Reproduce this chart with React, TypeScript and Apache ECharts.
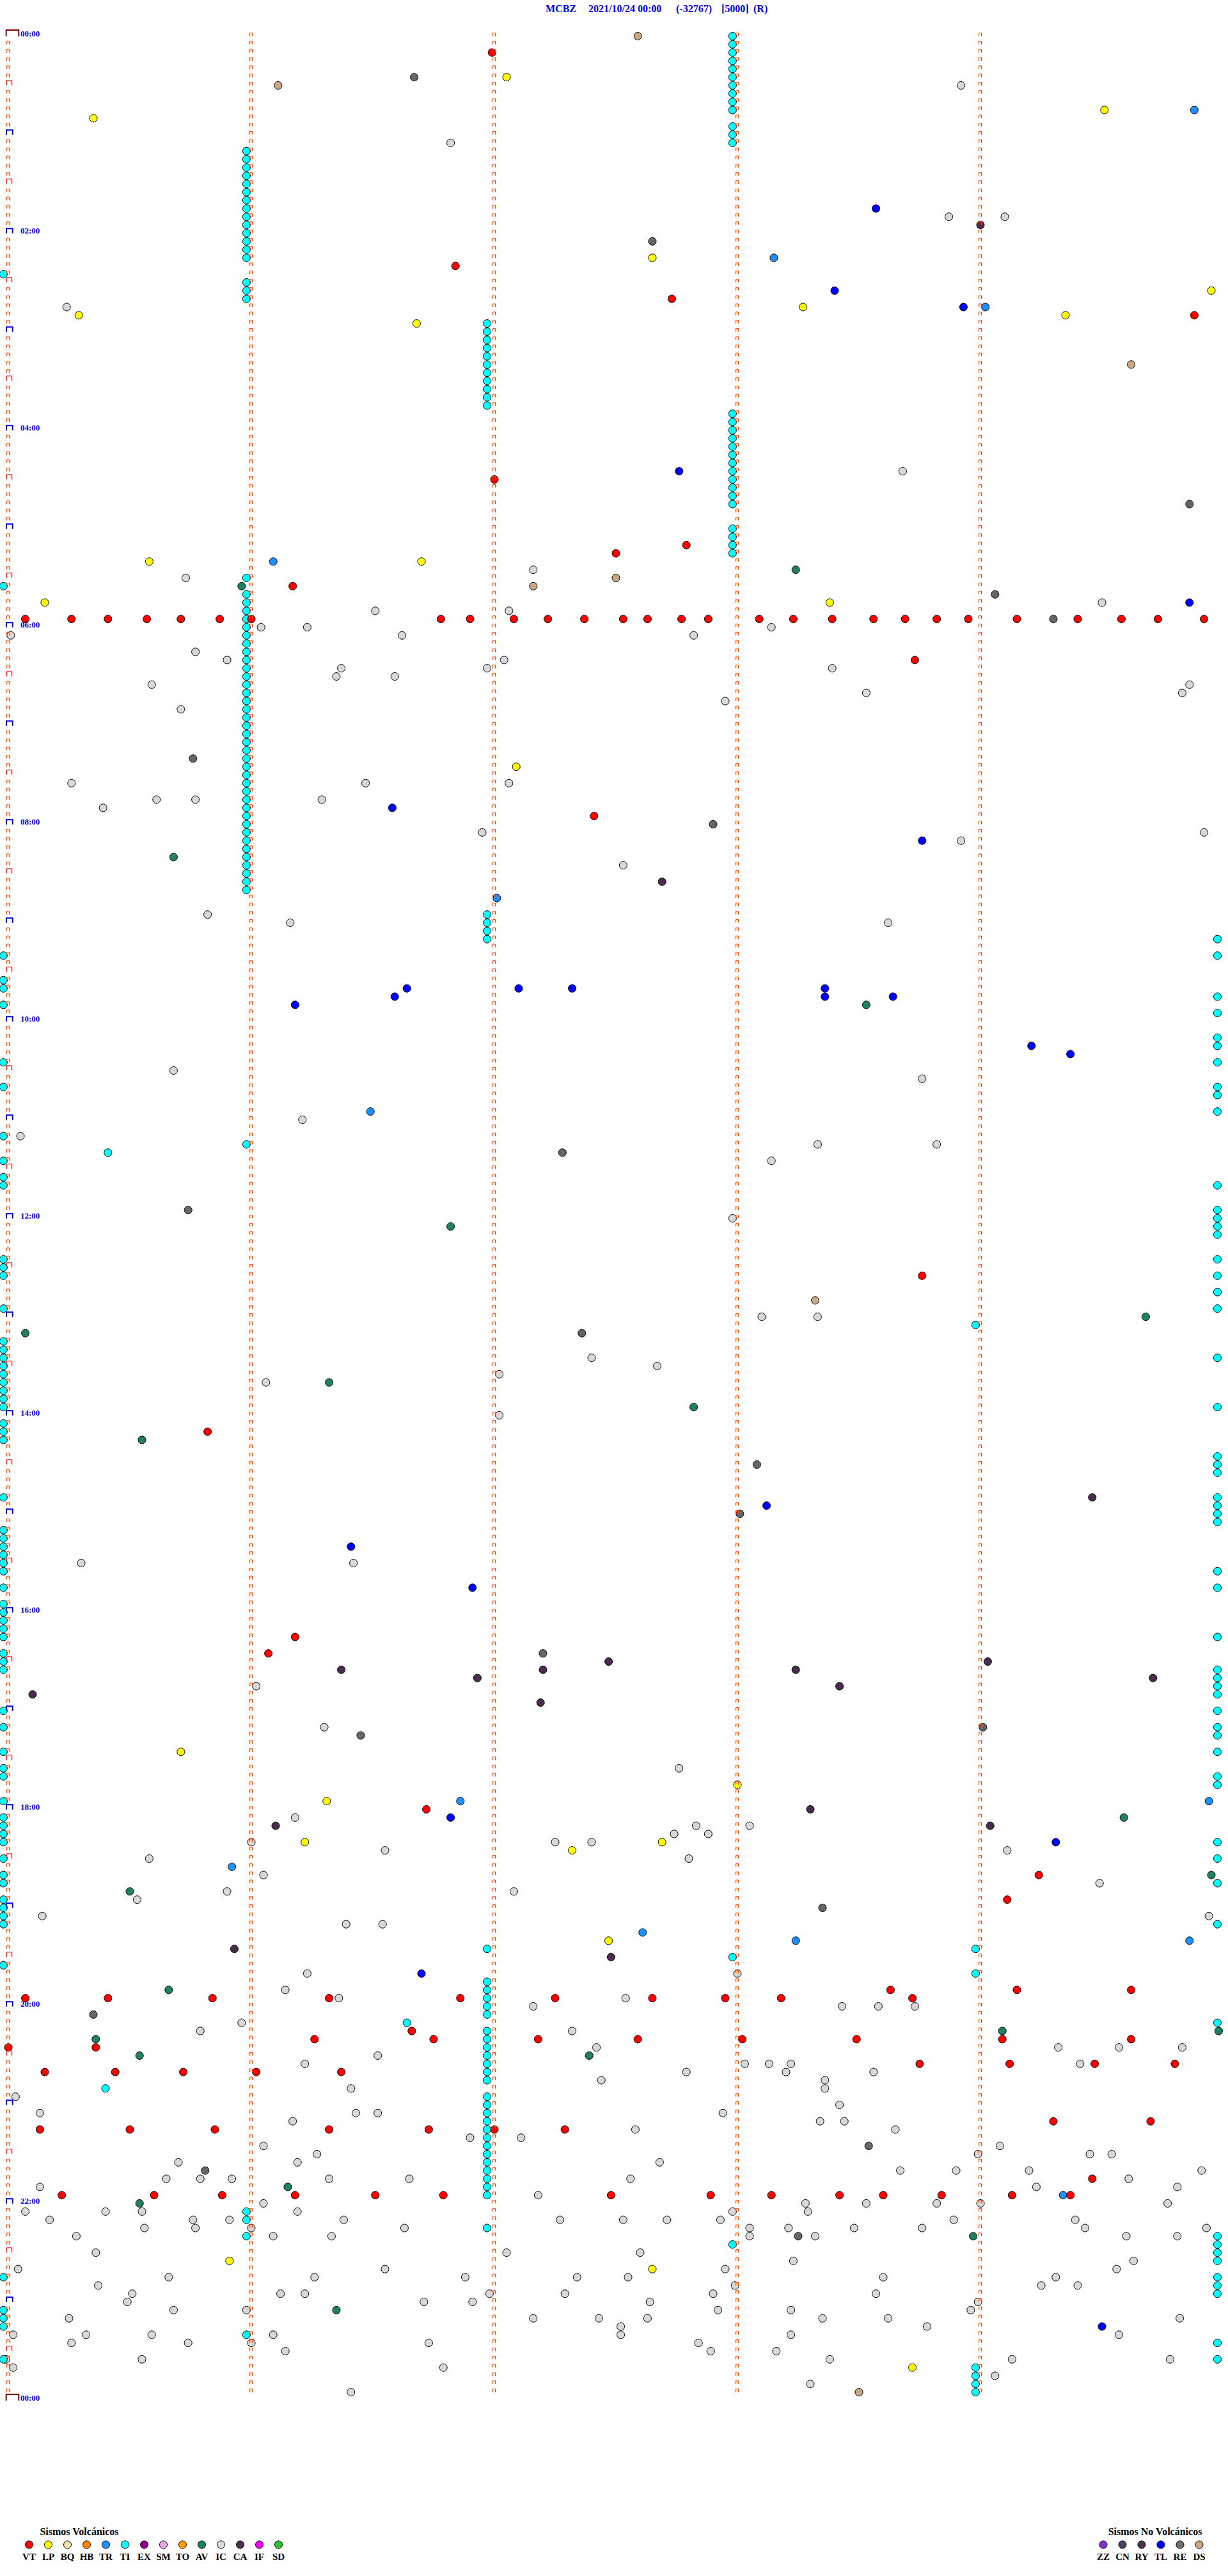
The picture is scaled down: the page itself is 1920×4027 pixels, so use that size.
import React, { useEffect, useRef } from "react";
import * as echarts from "echarts";

type Ev = [number, number]; // [trace row (5-minute line), minute within the line]

const TRACE_COUNT = 288;
const TRACE_MINUTES = 5;
const TITLE_PARTS = ["MCBZ", "2021/10/24 00:00", "(-32767)", "[5000]", "(R)"];
const TITLE_X = [853, 920, 1057, 1128, 1178];

const VT: Ev[] = [
  [2,1.99],[28,1.84],[32,2.73],[34,4.88],[54,2.0],[62,2.79],[63,2.5],[67,1.17],
  [71,0.07],[71,0.26],[71,0.41],[71,0.57],[71,0.71],[71,0.87],[71,1.0],[71,1.78],[71,1.9],[71,2.08],[71,2.22],[71,2.37],[71,2.53],[71,2.63],[71,2.77],[71,2.88],[71,3.09],[71,3.23],[71,3.39],[71,3.56],[71,3.69],[71,3.82],[71,3.95],[71,4.15],[71,4.4],[71,4.58],[71,4.73],[71,4.92],
  [76,3.73],[95,2.41],[151,3.76],[170,0.82],
  [195,1.18],[197,1.07],[216,1.72],[224,4.24],[227,4.11],
  [238,3.63],[238,4.15],[238,4.62],
  [239,0.07],[239,0.41],[239,0.84],[239,1.32],[239,1.86],[239,2.25],[239,2.65],[239,2.95],[239,3.18],[239,3.72],
  [243,1.66],
  [244,1.26],[244,1.75],[244,2.18],[244,2.59],[244,3.02],[244,3.49],[244,4.09],[244,4.62],
  [245,0.0],[245,0.36],
  [247,3.75],[247,4.12],[247,4.47],[247,4.8],
  [248,0.15],[248,0.44],[248,0.72],[248,1.02],[248,1.37],
  [254,4.3],[254,4.7],
  [255,0.13],[255,0.5],[255,0.85],[255,1.32],[255,1.73],[255,2.0],[255,2.29],
  [261,4.46],
  [263,0.22],[263,0.6],[263,0.88],[263,1.18],[263,1.51],[263,1.79],[263,2.48],[263,2.89],[263,3.14],[263,3.42],[263,3.6],[263,3.84],[263,4.13],[263,4.37]
];

const LP: Ev[] = [
  [5,2.05],[9,4.51],[10,0.35],[27,2.65],[31,4.95],[33,3.27],[34,4.35],[34,0.29],[35,1.68],[64,0.58],[64,1.7],[69,3.38],[69,0.15],[89,2.09],
  [209,0.71],[213,3.0],[215,1.31],[220,1.22],[220,2.69],[221,2.32],[232,2.47],[271,0.91],[272,2.65],[284,3.72]
];

const TR: Ev[] = [
  [9,4.88],[27,3.15],[33,4.02],[64,1.09],[105,2.01],[131,1.49],
  [215,1.86],[215,4.94],[223,0.92],[231,2.61],[232,3.24],[232,4.86],[263,4.34]
];

const TL: Ev[] = [
  [21,3.57],[31,3.4],[33,3.93],[53,2.76],[69,4.86],[94,1.58],[98,3.76],[116,1.64],[116,2.1],[116,2.32],[116,3.36],[117,1.59],[117,3.36],[117,3.64],[118,1.18],[123,4.21],[124,4.37],[179,3.12],[184,1.41],
  [189,1.91],[217,1.82],[220,4.31],[236,1.7],[279,4.5]
];

const RE: Ev[] = [
  [5,1.67],[25,2.65],[57,4.86],[68,4.06],[71,4.3],[88,0.76],[96,2.9],[136,2.28],[143,0.74],[158,2.36],[174,3.08],[180,3.01],
  [197,2.2],[206,4.01],[207,1.45],[228,3.35],[241,0.35],[257,3.54],[260,0.81],[268,3.25]
];

const CA: Ev[] = [
  [23,4.0],[103,2.69],[178,4.46],
  [198,2.47],[198,4.03],[199,1.37],[199,2.2],[199,3.24],[200,1.93],[200,4.71],[201,3.42],[202,0.1],[203,2.19],[216,3.3],[218,1.1],[218,4.04],[233,0.93],[234,2.48]
];

const DS: Ev[] = [[0,2.59],[6,1.11],[40,4.62],[66,2.5],[67,2.16],[154,3.32],[287,3.5]];

const AV: Ev[] = [
  [65,3.24],[67,0.96],[100,0.68],[118,3.53],[145,1.82],[156,4.68],[158,0.07],[164,1.32],[167,2.82],[171,0.55],
  [217,4.59],[224,4.95],[226,0.5],[238,0.66],[243,4.09],[243,4.98],[244,0.36],[246,0.54],[246,2.39],[262,1.15],[264,0.54],[268,3.97],[277,1.35]
];

const IC: Ev[] = [
  [6,3.92],[13,1.82],[22,3.87],[22,4.1],[33,0.24],[53,3.68],[65,2.16],[66,0.73],[69,4.5],[70,1.51],[70,2.06],[72,1.04],[72,1.23],[72,3.14],[73,0.01],[73,1.62],[73,2.82],[75,0.77],[76,0.9],[76,2.04],[77,1.37],[77,1.97],[77,3.39],[78,1.35],[78,1.59],[79,0.59],[79,4.86],[80,3.53],[80,4.83],[81,2.95],[82,0.71],[91,0.26],[91,1.47],[91,2.06],[93,0.61],[93,0.77],[93,1.29],[94,0.39],[97,1.95],[97,4.92],[98,3.92],[101,2.53],[107,0.82],[108,1.16],[108,3.62],[126,0.68],[127,3.76],[132,1.21],[134,0.05],[135,3.33],[135,3.82],[137,3.14],[144,2.98],[156,3.1],[156,3.33],[161,2.4],[162,2.67],[163,2.02],[164,1.06],[168,2.02],[186,0.3],[186,1.42],
  [201,1.02],[206,1.3],[217,1.18],[220,1.0],[220,2.25],[220,2.4],[221,1.55],[222,0.58],[224,1.05],[226,0.9],[226,2.08],[227,0.53],[229,0.14],[230,1.39],[230,1.54],
  [211,2.76],[218,2.83],[218,3.05],[219,2.74],[219,2.88],[221,4.11],[222,2.8],[225,4.49],[229,4.94],
  [236,1.23],[238,1.14],[239,1.36],[240,2.16],[242,0.96],[243,0.79],[243,2.32],[245,2.42],[246,1.52],[247,1.22],[249,2.44],[250,1.41],[251,0.03],[253,0.13],[253,1.43],[253,1.52],[254,1.17],[256,1.9],[256,2.11],[257,1.05],[258,1.27],[259,0.7],[259,1.19],[261,0.65],[261,0.79],[261,0.92],[261,1.32],[261,1.65],[262,0.13],[263,2.18],[264,1.05],[265,0.07],[265,0.4],[265,0.55],[265,1.19],[266,0.17],[266,0.76],[266,0.91],[266,1.38],[266,2.27],[267,0.56],[267,0.77],[267,1.0],[267,1.63],[268,0.28],[268,1.09],[268,1.33],[270,0.36],[270,2.05],[272,0.04],[272,1.55],[273,0.66],[273,1.26],[273,1.88],[273,2.34],[274,0.37],[275,0.51],[275,1.12],[275,1.22],[275,1.98],[275,2.29],[276,0.49],[276,1.71],[276,1.91],[277,0.68],[277,0.98],[278,0.25],[278,2.16],[278,2.43],[280,0.02],[280,0.32],[280,0.59],[280,1.09],[281,0.26],[281,0.74],[281,1.0],[281,1.73],[282,1.14],[283,-0.01],[283,0.55],[284,0.02],[284,1.79],[287,1.41],
  [236,3.0],[239,2.54],[240,3.43],[240,3.58],[240,3.73],[245,4.32],[245,4.57],[245,4.83],[247,3.03],[247,3.13],[247,3.22],[247,4.41],[248,2.79],[248,3.2],[248,3.56],[249,3.36],[250,3.36],[252,3.42],[253,2.94],[254,3.34],[254,3.44],[255,2.58],[255,3.65],[257,4.08],[258,3.99],[258,4.45],[258,4.54],[259,2.68],[260,3.67],[260,3.9],[260,4.2],[260,4.91],[261,2.56],[261,4.61],[262,4.23],[262,4.81],[264,3.28],[264,3.53],[264,3.82],[264,4.0],[264,4.77],[265,2.98],[265,3.29],[266,2.53],[266,2.71],[266,2.93],[266,3.89],[266,4.39],[267,3.05],[267,3.21],[267,3.48],[267,3.76],[267,4.43],[267,4.93],[268,3.05],[268,3.32],[268,4.6],[268,4.81],[270,2.6],[271,3.23],[271,4.63],[272,2.95],[272,4.56],[273,2.55],[273,3.6],[273,4.31],[274,2.99],[274,4.25],[274,4.4],[275,2.9],[275,3.57],[276,2.64],[276,3.99],[277,2.92],[277,3.22],[277,3.96],[278,2.63],[278,3.35],[278,3.62],[278,4.82],[279,2.52],[279,3.78],[280,2.52],[280,3.22],[280,4.57],[281,2.84],[282,2.89],[282,3.16],[283,3.38],[283,4.13],[283,4.78],[285,4.06],[286,3.3]
];

// TI events grouped by their position in the line: [minute, rows]
const TI_GROUPS: [number, number[]][] = [
  [2.98, [0,1,2,3,4,5,6,7,8,9,11,12,13,46,47,48,49,50,51,52,53,54,55,56,57,60,61,62,63,234,269]],
  [0.98, [14,15,16,17,18,19,20,21,22,23,24,25,26,27,30,31,32,66,68,69,70,71,72,73,74,75,76,77,78,79,80,81,82,83,84,85,86,87,88,89,90,91,92,93,94,95,96,97,98,99,100,101,102,103,104,135,265,266,268,280]],
  [1.97, [35,36,37,38,39,40,41,42,43,44,45,107,108,109,110,233,237,238,239,240,241,243,244,245,246,247,248,249,251,252,253,254,255,256,257,258,259,260,261,262,263,267]],
  [-0.02, [29,67,112,115,116,118,125,128,134,137,139,140,149,150,151,155,159,160,161,162,163,164,165,166,167,169,170,171,178,182,183,184,185,186,187,189,191,192,193,194,195,197,198,199,204,206,209,211,212,215,217,218,219,220,222,224,225,227,228,229,230,235,273,277,278,279,283]],
  [4.975, [110,112,117,119,122,123,125,128,129,131,140,143,144,145,146,149,151,153,155,161,167,173,174,175,178,179,180,181,187,189,195,199,200,201,202,204,206,207,209,212,213,220,222,225,230,242,268,269,270,271,273,274,275,281,283]],
  [3.98, [157,233,236,284,285,286,287]],
  [0.41, [136]],
  [1.64, [242]],
  [0.4, [250]]
];

const VOLC_CODES = ["VT","LP","BQ","HB","TR","TI","EX","SM","TO","AV","IC","CA","IF","SD"];
const VOLC_COLORS = ["#ff0000","#ffff00","#f0e6a8","#ff8000","#2090ff","#00ffff","#900090","#e8a8e8","#ffa000","#208060","#d8d8d8","#503050","#ff00ff","#30c030"];
const NONVOLC_CODES = ["ZZ","CN","RY","TL","RE","DS"];
const NONVOLC_COLORS = ["#8030d0","#504060","#503050","#0000ff","#707070","#c8a880"];

const SERIF = '"Liberation Serif", "Times New Roman", serif';
const CIRCLE_DY = 0.35;

export default function App() {
  const ref = useRef<HTMLDivElement>(null);

  useEffect(() => {
    if (!ref.current) return;
    const chart = echarts.init(ref.current, undefined, { renderer: "svg" });

    const tiData: Ev[] = [];
    TI_GROUPS.forEach(([m, rows]) => rows.forEach((r) => tiData.push([r, m])));

    const eventSets: { code: string; data: Ev[]; color: string }[] = [
      { code: "IC", data: IC, color: "#d8d8d8" },
      { code: "DS", data: DS, color: "#c8a880" },
      { code: "RE", data: RE, color: "#666666" },
      { code: "CA", data: CA, color: "#4a2c4c" },
      { code: "AV", data: AV, color: "#208060" },
      { code: "TL", data: TL, color: "#0000ff" },
      { code: "TR", data: TR, color: "#2090ff" },
      { code: "LP", data: LP, color: "#ffff00" },
      { code: "TI", data: tiData, color: "#00ffff" },
      { code: "VT", data: VT, color: "#ff0000" }
    ];

    const markerData: number[][] = [];
    for (let r = 0; r < TRACE_COUNT; r++) {
      for (let c = 0; c < TRACE_MINUTES; c++) {
        if (c === 0 && r % 6 === 0) continue;
        markerData.push([c, r]);
      }
    }
    const bracketData: number[][] = [];
    for (let r = 0; r <= TRACE_COUNT; r += 6) {
      bracketData.push([0, r, r % TRACE_COUNT === 0 ? 0 : r % 12 === 0 ? 1 : 2]);
    }

    const graphic: any[] = [];
    TITLE_PARTS.forEach((t, i) => {
      graphic.push({
        type: "text", x: TITLE_X[i], y: 13, silent: true,
        style: { text: t, fill: "#0000ff", font: `bold 16px ${SERIF}`, align: "left", verticalAlign: "middle" }
      });
    });
    graphic.push({
      type: "text", x: 124, y: 3957,
      style: { text: "Sismos Volcánicos", fill: "#000", font: `bold 16px ${SERIF}`, align: "center", verticalAlign: "middle" }
    });
    VOLC_CODES.forEach((c, i) => {
      const cx = 45.5 + i * 30;
      graphic.push({ type: "circle", shape: { cx, cy: 3978, r: 6 }, style: { fill: VOLC_COLORS[i], stroke: "#000", lineWidth: 1 } });
      graphic.push({
        type: "text", x: cx, y: 3997,
        style: { text: c, fill: "#000", font: `bold 15px ${SERIF}`, align: "center", verticalAlign: "middle" }
      });
    });
    graphic.push({
      type: "text", x: 1806, y: 3957,
      style: { text: "Sismos No Volcánicos", fill: "#000", font: `bold 16px ${SERIF}`, align: "center", verticalAlign: "middle" }
    });
    NONVOLC_CODES.forEach((c, i) => {
      const cx = 1725 + i * 30;
      graphic.push({ type: "circle", shape: { cx, cy: 3978, r: 6 }, style: { fill: NONVOLC_COLORS[i], stroke: "#000", lineWidth: 1 } });
      graphic.push({
        type: "text", x: cx, y: 3997,
        style: { text: c, fill: "#000", font: `bold 15px ${SERIF}`, align: "center", verticalAlign: "middle" }
      });
    });

    const option: any = {
      animation: false,
      backgroundColor: "#ffffff",
      grid: { left: 13, right: 7, top: 52, bottom: 279 },
      xAxis: { type: "value", min: 0, max: TRACE_MINUTES, show: false },
      yAxis: {
        type: "value", min: 0, max: TRACE_COUNT, interval: 24, inverse: true,
        axisLine: { show: false }, axisTick: { show: false }, splitLine: { show: false },
        axisLabel: {
          inside: true, margin: 19, color: "#0000ff", fontFamily: SERIF, fontWeight: "bold", fontSize: 13,
          formatter: (v: number) => {
            const h = (v / 12) % 24;
            return (h < 10 ? "0" : "") + h + ":00";
          }
        }
      },
      graphic,
      series: [
        ...eventSets.map((s) => ({
          type: "scatter", name: s.code, clip: false, silent: true,
          symbol: "circle", symbolSize: 12,
          itemStyle: { color: s.color, borderColor: "#000", borderWidth: 1, opacity: 1 },
          data: s.data.map(([r, m]) => [m, r + CIRCLE_DY]),
          z: 2
        })),
        {
          type: "custom", silent: true, z: 5, clip: false,
          data: markerData,
          renderItem: (params: any, api: any) => {
            const p = api.coord([api.value(0), api.value(1)]);
            const x = Math.round(p[0]);
            const y = p[1];
            return {
              type: "polyline",
              shape: { points: [[x - 2.5, y + 4.5], [x - 2.5, y - 0.5], [x + 1.5, y - 0.5], [x + 1.5, y + 4.5]] },
              style: { stroke: "#ff4000", fill: "none", lineWidth: 1 }
            };
          }
        },
        {
          type: "custom", silent: true, z: 6, clip: false,
          data: bracketData,
          renderItem: (params: any, api: any) => {
            const p = api.coord([api.value(0), api.value(1)]);
            const x = Math.round(p[0]);
            const y = p[1];
            const k = api.value(2);
            let pts, stroke, lw;
            if (k === 0) {
              pts = [[x - 3.3, y + 4.7], [x - 3.3, y - 5], [x + 16.3, y - 5], [x + 16.3, y + 4.7]];
              stroke = "#800000"; lw = 2;
            } else if (k === 1) {
              pts = [[x - 3, y + 4.7], [x - 3, y - 2.7], [x + 6.7, y - 2.7], [x + 6.7, y + 4.7]];
              stroke = "#0000ff"; lw = 2;
            } else {
              pts = [[x - 2.5, y + 4.3], [x - 2.5, y - 3.2], [x + 5.5, y - 3.2], [x + 5.5, y + 4.3]];
              stroke = "#ff0000"; lw = 1;
            }
            return { type: "polyline", shape: { points: pts }, style: { stroke, fill: "none", lineWidth: lw } };
          }
        }
      ]
    };

    chart.setOption(option);
    return () => chart.dispose();
  }, []);

  return (
    <div
      ref={ref}
      style={{ position: "absolute", left: 0, top: 0, width: 1920, height: 4027, background: "#fff" }}
    />
  );
}
